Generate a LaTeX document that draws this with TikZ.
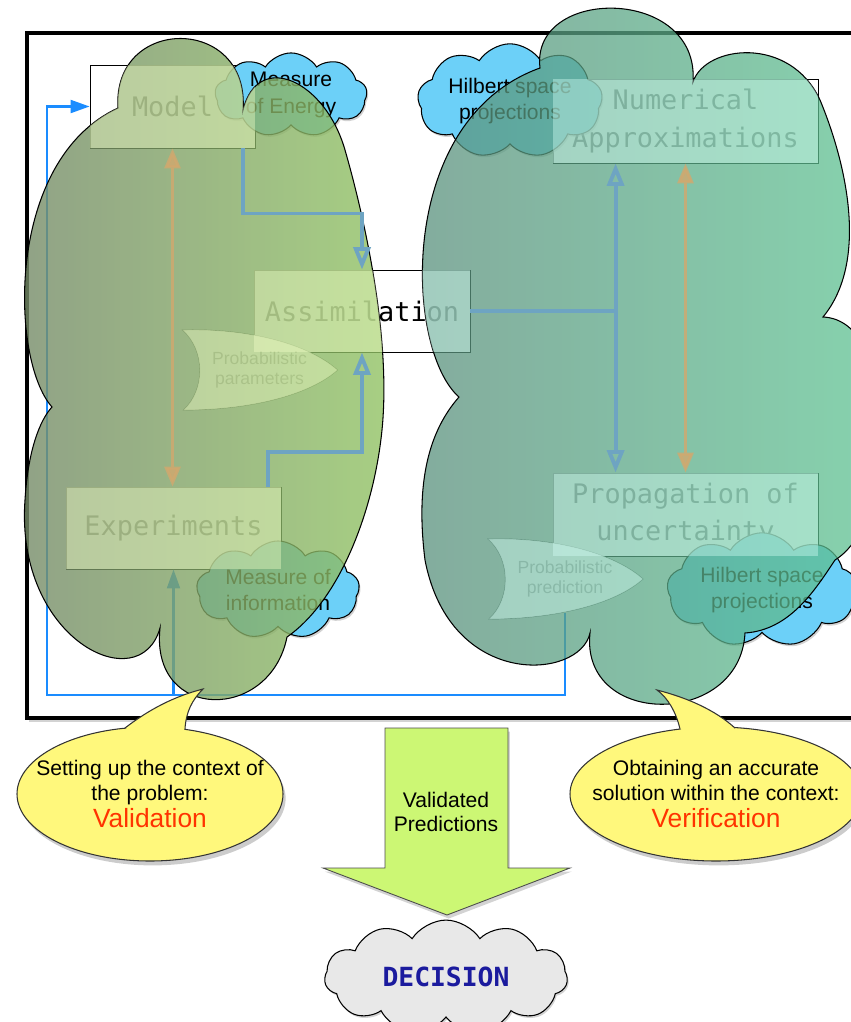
\documentclass[tikz,border=0pt]{standalone}
\usepackage{fontspec}
\setmainfont{Liberation Sans}
\newfontfamily\monof{DejaVu Sans Mono}
\usepackage{tikz}
\usetikzlibrary{calc,arrows.meta,shapes.geometric,shapes.symbols,shadows}
\definecolor{valL}{HTML}{748968}
\definecolor{valR}{HTML}{92C465}
\definecolor{verL}{HTML}{5A8E7C}
\definecolor{verR}{HTML}{5FC694}
\definecolor{valtint}{HTML}{F2FFC6}
\definecolor{vertint}{HTML}{D5FFF5}
\definecolor{skyc}{HTML}{6CD0F8}
\definecolor{linkc}{HTML}{1A8CFF}
\definecolor{steelc}{HTML}{6EA4C2}
\definecolor{tanc}{HTML}{D2A86E}
\definecolor{yelc}{HTML}{FFF87C}
\definecolor{limec}{HTML}{CCF774}
\definecolor{redc}{HTML}{FF3300}
\definecolor{navyc}{HTML}{1B1B9E}
\definecolor{fogc}{HTML}{E8E8E8}
\tikzset{
  otri/.tip={Triangle[open,length=4.5mm,width=3.4mm]},
  ftri/.tip={Triangle[length=4mm,width=3.2mm]},
  btri/.tip={Triangle[length=3.8mm,width=2.6mm]},
  frm/.style={draw=black,line width=2pt,fill=white,drop shadow={opacity=0.35,shadow xshift=1pt,shadow yshift=-2.5pt}},
  bx/.style={draw=black,line width=0.5pt,fill=white,inner sep=0pt,minimum height=1.64cm,align=center,font=\monof\fontsize{15.3}{21.5}\selectfont},
  bcl/.style={cloud,cloud puffs=9,cloud puff arc=115,aspect=2,draw=black,line width=0.6pt,fill=skyc,inner sep=0pt,align=center,font=\fontsize{12}{15}\selectfont,drop shadow={opacity=0.35,shadow xshift=0.8pt,shadow yshift=-1.2pt}},
  pn/.style={inner sep=0pt,align=center,text=black!70,font=\fontsize{10}{11.3}\selectfont},
  pnb/.style={draw=black!60,line width=0.4pt,fill=white},
  valcl/.style={draw=black,line width=0.6pt,left color=valL,right color=valR,fill opacity=0.8},
  vercl/.style={draw=black,line width=0.6pt,left color=verL,right color=verR,fill opacity=0.75},
  lite/.style={fill=#1,fill opacity=0.4},
  bln/.style={draw=linkc,line width=1.2pt},
  stl/.style={draw=steelc,line width=2.2pt},
  orar/.style={draw=tanc,line width=1.8pt,opacity=0.8,ftri-ftri},
  callout/.style={draw=black!80,line width=0.6pt,fill=yelc,drop shadow={opacity=0.4,shadow xshift=1.5pt,shadow yshift=-2.5pt}},
  calltxt/.style={inner sep=0pt,align=center,font=\fontsize{12}{14.2}\selectfont},
  tl/.style={draw=black!80,line width=0.6pt}
}
\newcommand\valshape{(118,108) .. controls (112,15) and (250,15) .. (243,110)
  .. controls (258,50) and (325,80) .. (345,150)
  .. controls (360,202) and (392,330) .. (382,430)
  .. controls (374,510) and (340,600) .. (287,637)
  .. controls (270,722) and (150,722) .. (160,628)
  .. controls (140,700) and (15,640) .. (25,500)
  .. controls (28,450) and (40,420) .. (52,407)
  .. controls (10,360) and (5,160) .. (118,108) -- cycle}
\newcommand\vershape{(540,68) .. controls (530,-14) and (700,-14) .. (693,82)
  .. controls (705,45) and (790,35) .. (820,100)
  .. controls (845,160) and (870,260) .. (823,317)
  .. controls (900,320) and (900,520) .. (835,560)
  .. controls (815,590) and (790,630) .. (745,633)
  .. controls (740,728) and (580,728) .. (590,633)
  .. controls (580,680) and (450,690) .. (425,560)
  .. controls (415,480) and (430,430) .. (459,397)
  .. controls (405,350) and (395,120) .. (540,68) -- cycle}
\newcommand\pennpath[1]{($(#1)+(-77,-40)$) .. controls ($(#1)+(-9,-42)$) and ($(#1)+(50,-25)$) .. ($(#1)+(78,0)$)
  .. controls ($(#1)+(50,25)$) and ($(#1)+(-9,40)$) .. ($(#1)+(-76,40)$)
  .. controls ($(#1)+(-54,20)$) and ($(#1)+(-54,-20)$) .. ($(#1)+(-77,-40)$) -- cycle}

\begin{document}
\begin{tikzpicture}[x=0.02cm,y=-0.02cm]
\useasboundingbox (0,0) rectangle (851,1022);
\clip (0,0) rectangle (851,1022);
% frame
\draw[frm] (27,33) rectangle (880,718);
% boxes
\node[bx,minimum width=3.3cm,minimum height=1.66cm] (model) at (172.5,106.5) {Model};
\node[bx,minimum width=4.32cm] (assim) at (362,311) {Assimilation};
\node[bx,minimum width=4.3cm] (expt) at (173.5,528) {Experiments};
\node[bx,minimum width=5.3cm,minimum height=1.68cm] (numapp) at (685.5,121) {Numerical\\Approximations};
\node[bx,minimum width=5.3cm,minimum height=1.66cm] (propag) at (685.5,514.5) {Propagation of\\uncertainty};
% pennants
\coordinate (pp) at (259.5,370);
\coordinate (pq) at (565,579);
\draw[pnb] \pennpath{pp};
\draw[pnb] \pennpath{pq};
\node[pn] (probpar) at (pp) {Probabilistic\\parameters};
\node[pn] (probpred) at (pq) {Probabilistic\\prediction};
% blue clouds
\node[bcl,minimum width=3.04cm,minimum height=1.46cm] (energy) at (291,95) {Measure\\of Energy};
\node[bcl,minimum width=3.7cm,minimum height=1.74cm] (hilbtop) at (510,101) {Hilbert space\\projections};
\node[bcl,minimum width=3.26cm,minimum height=1.72cm] (measinfo) at (278,590) {Measure of\\information};
\node[bcl,minimum width=3.8cm,minimum height=1.92cm] (hilbbot) at (762,590) {Hilbert space\\projections};
% feedback loop
\coordinate (lpc) at (47,695);
\draw[bln,-btri] ($(probpred)+(0,34)$) |- (lpc) |- (model.west);
\draw[bln,-btri] (lpc -| expt.south) -- (expt.south);
% validation and verification clouds
\path[valcl] \valshape;
\path[vercl] \vershape;
\begin{scope}
  \clip \valshape;
  \fill[lite=valtint] (model.north west) rectangle (model.south east);
  \fill[lite=valtint] (assim.north west) rectangle (assim.south east);
  \fill[lite=valtint] (expt.north west) rectangle (expt.south east);
  \fill[lite=valtint] \pennpath{pp};
\end{scope}
\begin{scope}
  \clip \vershape;
  \fill[lite=vertint] (numapp.north west) rectangle (numapp.south east);
  \fill[lite=vertint] (propag.north west) rectangle (propag.south east);
  \fill[lite=vertint] (assim.north west) rectangle (assim.south east);
  \fill[lite=vertint] \pennpath{pq};
\end{scope}
% connectors
\coordinate (jn) at ($(numapp.south west)+(63,0)$);
\draw[stl,-otri] ($(model.south east)+(-12,0)$) -- ++(0,65) -| (assim.north);
\draw[stl,-otri] ($(expt.north east)+(-13,0)$) -- ++(0,-35) -| (assim.south);
\draw[stl] (assim.east) -- (assim.east -| jn);
\draw[stl,-otri] (assim.east -| jn) -- (jn);
\draw[stl,-otri] (assim.east -| jn) -- (jn |- propag.north);
\draw[orar] (model.south) -- (model.south |- expt.north);
\draw[orar] (numapp.south) -- (propag.north);
% callouts
\coordinate (vc) at (150,794);
\coordinate (wc) at (716,794);
\draw[callout] (vc) ellipse [x radius=133,y radius=67];
\draw[callout] (wc) ellipse [x radius=146,y radius=67];
\coordinate (va) at ($(vc)+(-25,-66)$);
\coordinate (vb) at ($(vc)+(35,-65)$);
\coordinate (vt) at ($(vc)+(53,-105)$);
\fill[yelc] (va) .. controls ($(va)+(30,-23)$) and ($(vt)+(-23,6)$) .. (vt) .. controls ($(vt)+(-11,11)$) and ($(vb)+(1,-17)$) .. (vb) -- ($(vc)+(10,-50)$) -- cycle;
\draw[tl] (va) .. controls ($(va)+(30,-23)$) and ($(vt)+(-23,6)$) .. (vt) .. controls ($(vt)+(-11,11)$) and ($(vb)+(1,-17)$) .. (vb);
\coordinate (wa) at ($(wc)+(-36,-65)$);
\coordinate (wb) at ($(wc)+(19,-66)$);
\coordinate (wt) at ($(wc)+(-59,-104)$);
\fill[yelc] (wa) .. controls ($(wa)+(-4,-17)$) and ($(wt)+(11,8)$) .. (wt) .. controls ($(wt)+(31,8)$) and ($(wb)+(-20,-18)$) .. (wb) -- ($(wc)+(-8,-50)$) -- cycle;
\draw[tl] (wa) .. controls ($(wa)+(-4,-17)$) and ($(wt)+(11,8)$) .. (wt) .. controls ($(wt)+(31,8)$) and ($(wb)+(-20,-18)$) .. (wb);
\node[calltxt] (valid) at (vc) {Setting up the context of\\the problem:\\[1pt]{\color{redc}\fontsize{15}{17}\selectfont Validation}};
\node[calltxt] (verif) at (wc) {Obtaining an accurate\\solution within the context:\\[1pt]{\color{redc}\fontsize{15}{17}\selectfont Verification}};
% validated predictions
\draw[draw=black!70,line width=0.5pt,fill=limec,drop shadow={opacity=0.35,shadow xshift=1pt,shadow yshift=-2pt}]
  (385,728) -- (508,728) -- (508,868) -- (570,868) -- (447,915) -- (323,868) -- (385,868) -- cycle;
\node[align=center,font=\fontsize{12}{14}\selectfont] (predtxt) at (446,812) {Validated\\Predictions};
\node[bcl,fill=fogc,cloud puffs=11,minimum width=4.86cm,minimum height=1.74cm,text=navyc,font=\monof\bfseries\fontsize{15}{18}\selectfont] (decision) at (446,977) {DECISION};
\end{tikzpicture}
\end{document}
